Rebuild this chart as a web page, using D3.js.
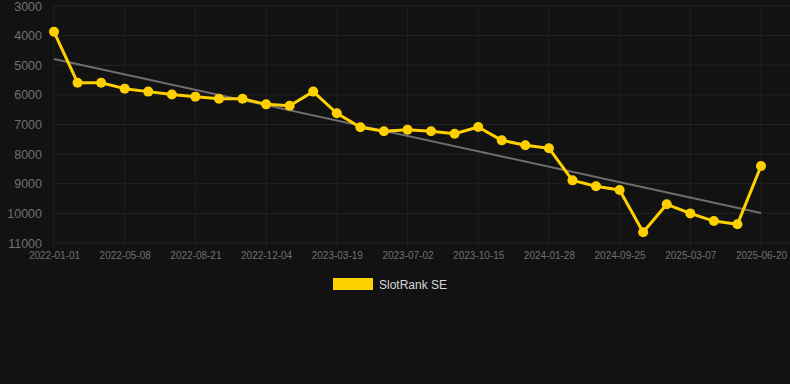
<!DOCTYPE html>
<html><head><meta charset="utf-8">
<script src="https://cdn.jsdelivr.net/npm/d3@7"></script>
<style>html,body{margin:0;padding:0;background:#121212;}svg{display:block;}</style>
</head><body>
<svg id="chart" width="790" height="384"></svg>
<script>
const dates = ["2022-01-01","2022-02-12","2022-03-26","2022-05-08","2022-06-12","2022-07-17","2022-08-21","2022-09-25","2022-10-30","2022-12-04","2023-01-08","2023-02-12","2023-03-19","2023-04-23","2023-05-28","2023-07-02","2023-08-06","2023-09-10","2023-10-15","2023-11-19","2023-12-24","2024-01-28","2024-04-08","2024-06-17","2024-09-25","2024-11-17","2025-01-11","2025-03-07","2025-04-11","2025-05-16","2025-06-20"];
const ranks = [3870,5590,5590,5790,5890,5990,6060,6130,6130,6320,6370,5890,6620,7095,7230,7175,7230,7310,7085,7535,7700,7800,8885,9085,9210,10640,9695,10000,10260,10370,8400];
const yTicks = [3000,4000,5000,6000,7000,8000,9000,10000,11000];
const seriesName = "SlotRank SE";

const svg = d3.select("#chart");
const W = 790, H = 384;
const padL = 54, padR = 761, padT = 6, padB = 243;

const x = d3.scalePoint().domain(dates).range([padL, padR]);
const y = d3.scaleLinear().domain([3000, 11000]).range([padT, padB]);

svg.append("rect").attr("width", W).attr("height", H).attr("fill", "#121212");

// horizontal grid
svg.append("g").selectAll("line").data(yTicks).join("line")
  .attr("x1", padL - 1).attr("x2", W).attr("y1", d => y(d)).attr("y2", d => y(d))
  .attr("stroke", "#242424").attr("stroke-width", 1);

// x ticks shown every 3
const shown = dates.filter((d, i) => i % 3 === 0);
svg.append("g").selectAll("line").data(shown).join("line")
  .attr("x1", d => x(d)).attr("x2", d => x(d)).attr("y1", padT).attr("y2", padB + 5)
  .attr("stroke", "#202020").attr("stroke-width", 1);

// y axis labels
const yAxis = d3.axisLeft(y).tickValues(yTicks).tickSize(0).tickPadding(0).tickFormat(d3.format("d"));
const gy = svg.append("g").attr("transform", `translate(${padL - 12},0)`).call(yAxis);
gy.select(".domain").remove();
gy.selectAll("text").attr("fill", "#707070").attr("font-family", "Arial, 'Liberation Sans', sans-serif").attr("font-size", 12.5);

// x axis labels
const xAxis = d3.axisBottom(x).tickValues(shown).tickSize(0).tickPadding(0);
const gx = svg.append("g").attr("transform", `translate(0,${padB + 9})`).call(xAxis);
gx.select(".domain").remove();
gx.selectAll("text").attr("fill", "#707070").attr("font-family", "Arial, 'Liberation Sans', sans-serif").attr("font-size", 10);

// trend line (linear regression)
const n = ranks.length;
const idx = d3.range(n);
const mx = d3.mean(idx), my = d3.mean(ranks);
const slope = d3.sum(idx, i => (i - mx) * (ranks[i] - my)) / d3.sum(idx, i => (i - mx) ** 2);
const icpt = my - slope * mx;
svg.append("line")
  .attr("x1", x(dates[0])).attr("y1", y(icpt))
  .attr("x2", x(dates[n - 1])).attr("y2", y(icpt + slope * (n - 1)))
  .attr("stroke", "#6e6e6e").attr("stroke-width", 2);

// series line
const line = d3.line().x((d, i) => x(dates[i])).y(d => y(d));
svg.append("path").datum(ranks).attr("d", line)
  .attr("fill", "none").attr("stroke", "#ffd000").attr("stroke-width", 3).attr("stroke-linejoin", "round");

svg.append("g").selectAll("circle").data(ranks).join("circle")
  .attr("cx", (d, i) => x(dates[i])).attr("cy", d => y(d)).attr("r", 5)
  .attr("fill", "#ffd000");

// legend
svg.append("rect").attr("x", 333).attr("y", 278).attr("width", 40).attr("height", 12).attr("fill", "#ffd000");
svg.append("text").attr("x", 379).attr("y", 288.5).text(seriesName)
  .attr("fill", "#d8d8d8").attr("font-family", "Arial, 'Liberation Sans', sans-serif").attr("font-size", 12);
</script>
</body></html>
